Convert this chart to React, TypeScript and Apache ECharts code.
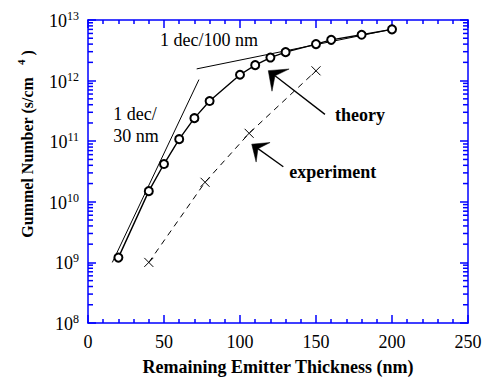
import React, { useEffect, useRef } from 'react';
import * as echarts from 'echarts';

const FONT = 'Liberation Serif, Times New Roman, serif';
const BLUE = '#0000ff';

// Theory (circles, solid)
const theoryX = [20, 40, 50, 60, 70, 80, 100, 110, 120, 130, 150, 160, 180, 200];
const theoryY = [1.2e9, 1.5e10, 4.2e10, 1.08e11, 2.4e11, 4.6e11, 1.25e12, 1.8e12, 2.4e12, 2.95e12, 4.0e12, 4.7e12, 5.7e12, 7.0e12];

// Experiment (crosses, dashed)
const expX = [40, 77, 106, 150];
const expY = [1.0e9, 2.1e10, 1.35e11, 1.45e12];

// Guide lines
const slope30X = [16, 73];
const slope30Y = [1.0e9, 1.04e12];
const slope100X = [71.5, 203];
const slope100Y = [1.56e12, 7.3e12];

// Axes
const xMin = 0;
const xMax = 250;
const xStep = 50;
const yExponents = [8, 9, 10, 11, 12, 13];

// Annotations
const annoText = ['1 dec/100 nm', '1 dec/', '30 nm', 'theory', 'experiment'];
const annoX = [47.4, 16.6, 16.6, 162.5, 132.4];
const annoY = [4.7e12, 2.77e11, 1.22e11, 2.7e11, 3.07e10];
const annoBold = [false, false, false, true, true];

// Arrows
const arrowTipX = [118.6, 107.7];
const arrowTipY = [1.46e12, 8.93e10];
const arrowTailX = [155.9, 128.5];
const arrowTailY = [2.77e11, 3.79e10];
const arrowHeadLen = [15.5, 14];
const arrowHeadHalfW = [14, 12];

export default function App() {
  const ref = useRef<HTMLDivElement>(null);

  useEffect(() => {
    if (!ref.current) return;
    const chart = echarts.init(ref.current, undefined, { renderer: 'svg' });

    const minorVals: number[] = [];
    for (let i = 0; i < yExponents.length - 1; i++) {
      for (let k = 2; k <= 9; k++) minorVals.push(k * Math.pow(10, yExponents[i]));
    }

    const axisLine = { show: true, onZero: false, lineStyle: { color: BLUE, width: 1.5 } };
    const axisTick = { show: true, inside: true, length: 8, lineStyle: { color: BLUE, width: 1.5 } };
    const minorTick = { show: true, splitNumber: 5, length: 4, lineStyle: { color: BLUE, width: 1.5 } };

    const yMin = Math.pow(10, yExponents[0]);
    const yMax = Math.pow(10, yExponents[yExponents.length - 1]);

    const option: any = {
      animation: false,
      textStyle: { fontFamily: FONT },
      grid: { left: 88, right: 20, top: 20, bottom: 56, containLabel: false },
      xAxis: [
        {
          type: 'value', min: xMin, max: xMax, interval: xStep, position: 'bottom',
          axisLine, axisTick, minorTick,
          splitLine: { show: false }, minorSplitLine: { show: false },
          axisLabel: { color: '#000', fontSize: 18, fontFamily: FONT, margin: 10 },
          name: 'Remaining Emitter Thickness (nm)', nameLocation: 'middle', nameGap: 35,
          nameTextStyle: { color: '#000', fontSize: 18, fontWeight: 'bold', fontFamily: FONT },
        },
        {
          type: 'value', min: xMin, max: xMax, interval: xStep, position: 'top',
          axisLine, axisTick, minorTick,
          splitLine: { show: false }, minorSplitLine: { show: false },
          axisLabel: { show: false },
        },
      ],
      yAxis: [
        {
          type: 'log', logBase: 10, min: yMin, max: yMax, position: 'left',
          axisLine, axisTick, splitLine: { show: false },
          axisLabel: {
            margin: 9,
            formatter: (v: number) => `{b|10}{s|${Math.round(Math.log10(v))}}`,
            rich: {
              b: { fontSize: 18, fontFamily: FONT, color: '#000', lineHeight: 20, verticalAlign: 'bottom' },
              s: { fontSize: 12, fontFamily: FONT, color: '#000', lineHeight: 12, verticalAlign: 'top' },
            },
          },
        },
        {
          type: 'log', logBase: 10, min: yMin, max: yMax, position: 'right',
          axisLine, axisTick, splitLine: { show: false },
          axisLabel: { show: false },
        },
      ],
      graphic: [
        {
          type: 'text', x: 25, y: 144, rotation: Math.PI / 2,
          style: {
            text: '{t|Gummel Number (s/cm}{p|4}{t|)}',
            align: 'center', verticalAlign: 'middle',
            fontFamily: FONT,
            rich: {
              t: { fontSize: 16, fontWeight: 'bold', fontFamily: FONT, fill: '#000', lineHeight: 20, verticalAlign: 'bottom' },
              p: { fontSize: 11, fontWeight: 'bold', fontFamily: FONT, fill: '#000', lineHeight: 12, verticalAlign: 'top', padding: [0, 4, 0, 12] },
            },
            fill: '#000',
          },
        },
      ],
      series: [
        {
          type: 'line', name: 'slope30',
          data: slope30X.map((x, i) => [x, slope30Y[i]]),
          showSymbol: false, symbol: 'none',
          lineStyle: { color: '#000', width: 1 }, silent: true, z: 2,
        },
        {
          type: 'line', name: 'slope100',
          data: slope100X.map((x, i) => [x, slope100Y[i]]),
          showSymbol: false, symbol: 'none',
          lineStyle: { color: '#000', width: 1 }, silent: true, z: 2,
        },
        {
          type: 'line', name: 'theory',
          data: theoryX.map((x, i) => [x, theoryY[i]]),
          symbol: 'emptyCircle', symbolSize: 8,
          lineStyle: { color: '#000', width: 1.4 },
          itemStyle: { color: '#000', borderColor: '#000', borderWidth: 1 },
          z: 3,
        },
        {
          type: 'line', name: 'experiment',
          data: expX.map((x, i) => [x, expY[i]]),
          symbol: 'path://M0,0L10,10M10,0L0,10', symbolSize: 9,
          lineStyle: { color: '#000', width: 1, type: [6, 5] },
          itemStyle: { color: 'none', borderColor: '#000', borderWidth: 1 },
          z: 3,
        },
        {
          type: 'custom', name: 'yMinorTicks',
          data: minorVals.map((v) => [xMin, v]),
          silent: true, clip: false, z: 5,
          renderItem: (params: any, api: any) => {
            const v = api.value(1);
            const pL = api.coord([xMin, v]);
            const pR = api.coord([xMax, v]);
            return {
              type: 'group',
              children: [
                { type: 'line', shape: { x1: pL[0], y1: pL[1], x2: pL[0] + 5, y2: pL[1] }, style: { stroke: BLUE, lineWidth: 1.5 } },
                { type: 'line', shape: { x1: pR[0], y1: pR[1], x2: pR[0] - 5, y2: pR[1] }, style: { stroke: BLUE, lineWidth: 1.5 } },
              ],
            };
          },
        },
        {
          type: 'custom', name: 'annotations',
          data: annoX.map((x, i) => [x, annoY[i]]),
          silent: true, clip: false, z: 6,
          renderItem: (params: any, api: any) => {
            const i = params.dataIndex;
            const p = api.coord([api.value(0), api.value(1)]);
            return {
              type: 'text', x: p[0], y: p[1],
              style: {
                text: annoText[i], fill: '#000', fontSize: 18, fontFamily: FONT,
                fontWeight: annoBold[i] ? 'bold' : 'normal',
                align: 'left', verticalAlign: 'middle',
              },
            };
          },
        },
        {
          type: 'custom', name: 'arrows',
          data: arrowTipX.map((x, i) => [x, arrowTipY[i], arrowTailX[i], arrowTailY[i]]),
          silent: true, clip: false, z: 6,
          renderItem: (params: any, api: any) => {
            const i = params.dataIndex;
            const tip = api.coord([api.value(0), api.value(1)]);
            const tail = api.coord([api.value(2), api.value(3)]);
            const dx = tip[0] - tail[0];
            const dy = tip[1] - tail[1];
            const len = Math.sqrt(dx * dx + dy * dy);
            const ux = dx / len, uy = dy / len;
            const nx = -uy, ny = ux;
            const L = arrowHeadLen[i], W = arrowHeadHalfW[i], N = L * 0.55;
            const b1 = [tip[0] - ux * L + nx * W, tip[1] - uy * L + ny * W];
            const b2 = [tip[0] - ux * L - nx * W, tip[1] - uy * L - ny * W];
            const notch = [tip[0] - ux * N, tip[1] - uy * N];
            return {
              type: 'group',
              children: [
                { type: 'line', shape: { x1: tail[0], y1: tail[1], x2: notch[0], y2: notch[1] }, style: { stroke: '#000', lineWidth: 1.3 } },
                { type: 'polygon', shape: { points: [tip, b1, notch, b2] }, style: { fill: '#000', stroke: '#000', lineWidth: 0.5 } },
              ],
            };
          },
        },
      ],
    };

    chart.setOption(option);
    return () => chart.dispose();
  }, []);

  return <div ref={ref} style={{ width: 488, height: 381, position: 'absolute', left: 0, top: 0, background: '#fff' }} />;
}
